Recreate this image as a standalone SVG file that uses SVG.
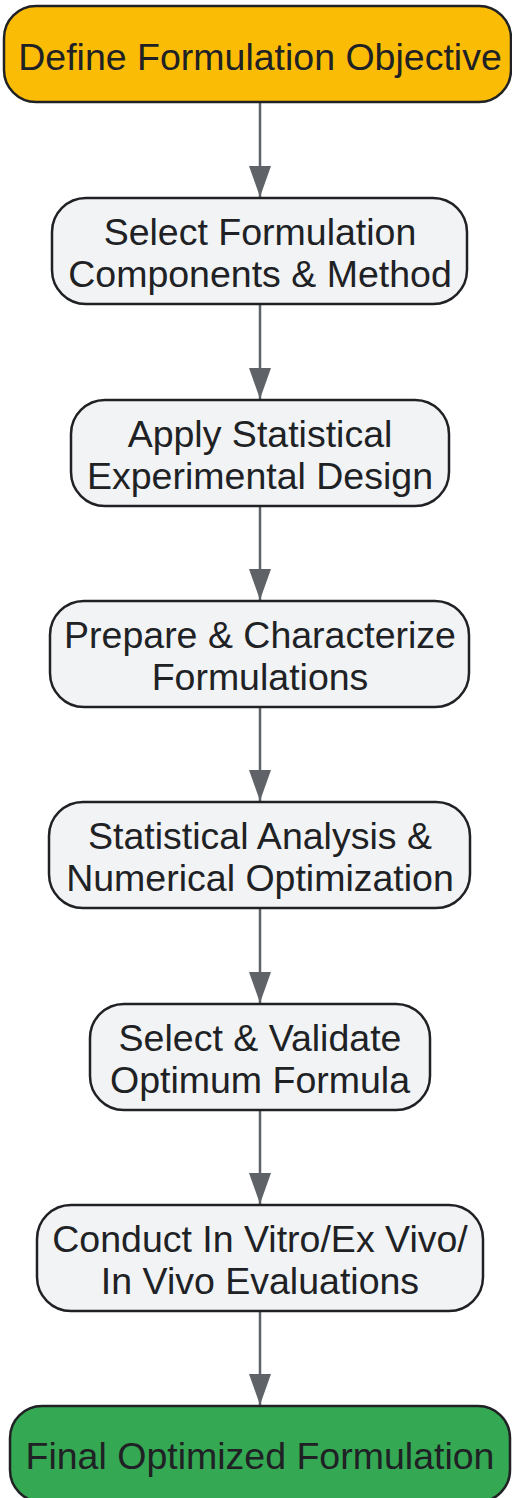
<svg xmlns="http://www.w3.org/2000/svg" width="512" height="1498" viewBox="0 0 512 1498">
  <style>
    .box { stroke: #202124; stroke-width: 2.5; }
    .step { fill: #F1F3F4; }
    .start { fill: #FBBC05; }
    .end { fill: #34A853; }
    .lbl { font-family: "Liberation Sans", Arial, sans-serif; font-size: 37.5px; fill: #202124; text-anchor: middle; }
    .edge { stroke: #5F6368; stroke-width: 2.5; fill: none; }
  </style>
  <defs>
    <marker id="ah" markerUnits="userSpaceOnUse" markerWidth="32" markerHeight="24" viewBox="0 0 32 24" refX="31" refY="12" orient="auto">
      <path d="M0 1 L31 12 L0 23 Z" fill="#5F6368"/>
    </marker>
  </defs>
  <g id="connectors">
    <line class="edge" x1="260" y1="102" x2="260" y2="197" marker-end="url(#ah)"/>
    <line class="edge" x1="260" y1="304" x2="260" y2="399" marker-end="url(#ah)"/>
    <line class="edge" x1="260" y1="506" x2="260" y2="600" marker-end="url(#ah)"/>
    <line class="edge" x1="260" y1="707" x2="260" y2="801" marker-end="url(#ah)"/>
    <line class="edge" x1="260" y1="908" x2="260" y2="1003" marker-end="url(#ah)"/>
    <line class="edge" x1="260" y1="1110" x2="260" y2="1204" marker-end="url(#ah)"/>
    <line class="edge" x1="260" y1="1311" x2="260" y2="1405" marker-end="url(#ah)"/>
  </g>
  <g id="n1">
    <rect class="box start" x="4" y="6" width="507" height="96" rx="32" ry="32"/>
    <text class="lbl" x="260" y="70">Define Formulation Objective</text>
  </g>
  <g id="n2">
    <rect class="box step" x="52" y="198" width="415" height="106" rx="34" ry="34"/>
    <text class="lbl" x="260" y="245">Select Formulation</text>
    <text class="lbl" x="260" y="287">Components &amp; Method</text>
  </g>
  <g id="n3">
    <rect class="box step" x="71" y="400" width="378" height="106" rx="34" ry="34"/>
    <text class="lbl" x="260" y="447">Apply Statistical</text>
    <text class="lbl" x="260" y="489">Experimental Design</text>
  </g>
  <g id="n4">
    <rect class="box step" x="50" y="601" width="419" height="106" rx="34" ry="34"/>
    <text class="lbl" x="260" y="648">Prepare &amp; Characterize</text>
    <text class="lbl" x="260" y="690">Formulations</text>
  </g>
  <g id="n5">
    <rect class="box step" x="49" y="802" width="421" height="106" rx="34" ry="34"/>
    <text class="lbl" x="260" y="849">Statistical Analysis &amp;</text>
    <text class="lbl" x="260" y="891">Numerical Optimization</text>
  </g>
  <g id="n6">
    <rect class="box step" x="90" y="1004" width="340" height="106" rx="34" ry="34"/>
    <text class="lbl" x="260" y="1051">Select &amp; Validate</text>
    <text class="lbl" x="260" y="1093">Optimum Formula</text>
  </g>
  <g id="n7">
    <rect class="box step" x="37" y="1205" width="446" height="106" rx="34" ry="34"/>
    <text class="lbl" x="260" y="1252">Conduct In Vitro/Ex Vivo/</text>
    <text class="lbl" x="260" y="1294">In Vivo Evaluations</text>
  </g>
  <g id="n8">
    <rect class="box end" x="10" y="1406" width="500" height="96" rx="32" ry="32"/>
    <text class="lbl" x="260" y="1469">Final Optimized Formulation</text>
  </g>
</svg>
